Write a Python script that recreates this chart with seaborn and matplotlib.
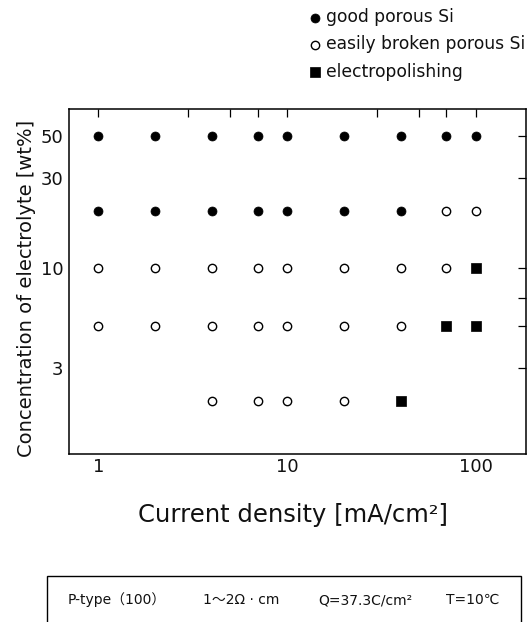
import matplotlib
matplotlib.use("Agg")
import matplotlib.pyplot as plt
import pandas as pd
import seaborn as sns
from matplotlib.patches import Rectangle
from matplotlib.ticker import NullFormatter

# Anodization conditions
current_density = [1, 2, 4, 7, 10, 20, 40, 70, 100]   # mA/cm2
concentration = [50, 20, 10, 5, 2]                     # HF wt%

# Result at each current density, one list per concentration (None = not tested)
G, B, E = "good", "broken", "polish"
result_50 = [G, G, G, G, G, G, G, G, G]
result_20 = [G, G, G, G, G, G, G, B, B]
result_10 = [B, B, B, B, B, B, B, B, E]
result_5 = [B, B, B, B, B, B, B, E, E]
result_2 = [None, None, B, B, B, B, E, None, None]

result_labels = {
    G: "good porous Si",
    B: "easily broken porous Si",
    E: "electropolishing",
}

x_major = [1, 10, 100]
x_minor = [3, 5, 7, 30, 50, 70]
y_major = [3, 10, 30, 50]
y_minor = [5, 7]

conditions = ["P-type（100）", "1～2Ω · cm", "Q=37.3C/cm²", "T=10℃"]

rows = []
for conc, results in zip(concentration, [result_50, result_20, result_10, result_5, result_2]):
    for cd, r in zip(current_density, results):
        if r is not None:
            rows.append({"current": cd, "conc": conc, "result": r})
df = pd.DataFrame(rows)

sns.set_theme(style="white")
plt.rcParams["font.family"] = ["DejaVu Sans", "Noto Sans CJK JP"]

W, H = 527, 622
fig = plt.figure(figsize=(W / 100, H / 100), dpi=100)
ax = fig.add_axes([69 / W, 1 - 454 / H, (526 - 69) / W, (454 - 109) / H])

sns.scatterplot(data=df[df.result == G], x="current", y="conc", marker="o", s=42,
                color="black", edgecolor="black", linewidth=0.5,
                label=result_labels[G], legend=False, ax=ax)
sns.scatterplot(data=df[df.result == B], x="current", y="conc", marker="o", s=36,
                color="white", edgecolor="black", linewidth=1.0,
                label=result_labels[B], legend=False, ax=ax)
sns.scatterplot(data=df[df.result == E], x="current", y="conc", marker="s", s=42,
                color="black", edgecolor="black", linewidth=0.5,
                label=result_labels[E], legend=False, ax=ax)

ax.set_xscale("log")
ax.set_yscale("log")
ax.set_xlim(0.70, 185)
ax.set_ylim(1.056, 69)

ax.set_xticks(x_major, labels=[str(v) for v in x_major])
ax.set_xticks(x_minor, minor=True)
ax.set_yticks(y_major, labels=[str(v) for v in y_major])
ax.set_yticks(y_minor, minor=True)
ax.xaxis.set_minor_formatter(NullFormatter())
ax.yaxis.set_minor_formatter(NullFormatter())

ax.tick_params(which="both", direction="in", top=True, right=True,
               length=6, width=0.9, color="black", labelsize=13, labelcolor="#111111")
ax.tick_params(axis="x", which="both", pad=3)
ax.tick_params(axis="y", which="both", pad=4)

for sp in ax.spines.values():
    sp.set_visible(True)
    sp.set_color("black")
    sp.set_linewidth(1.1)

ax.set_xlabel("Current density [mA/cm²]", fontsize=17.5, color="#111111")
ax.set_ylabel("Concentration of electrolyte [wt%]", fontsize=14, color="#111111")
ax.xaxis.set_label_coords(0.49, -0.142)
ax.yaxis.set_label_coords(-0.072, 0.48)

handles, labels = ax.get_legend_handles_labels()
fig.legend(handles, labels, loc="upper left", bbox_to_anchor=(309 / W, 1 - 8 / H),
           frameon=False, fontsize=12.3, handlelength=0.7, handletextpad=0.3,
           labelspacing=0.55, borderpad=0, borderaxespad=0, scatterpoints=1,
           labelcolor="#111111")

# Experimental conditions box
fig.add_artist(Rectangle((47 / W, -0.02), (521 - 47) / W, (1 - 576 / H) + 0.02,
                         transform=fig.transFigure, fill=False,
                         edgecolor="black", linewidth=1.0))
for xpos, txt in zip([68, 203, 318, 446], conditions):
    fig.text(xpos / W, 1 - 600 / H, txt, fontsize=10, ha="left", va="center",
             color="#111111")

fig.savefig("out.png", dpi=100)
